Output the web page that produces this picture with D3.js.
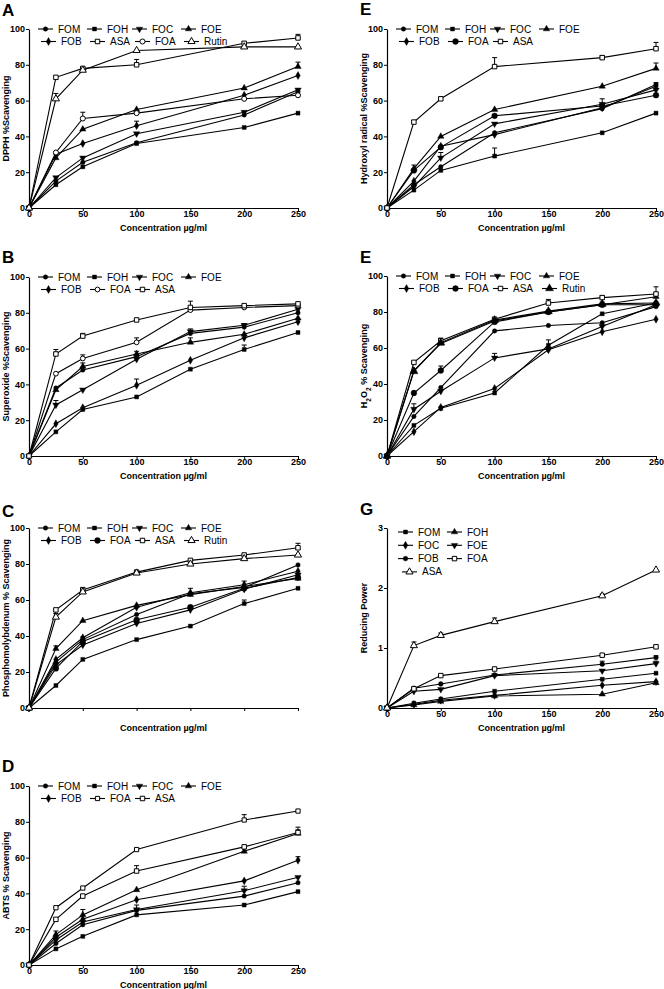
<!DOCTYPE html>
<html><head><meta charset="utf-8">
<script src="https://cdn.jsdelivr.net/npm/d3@7"></script>
<style>body{margin:0;background:#fff} svg{display:block}</style>
</head><body><svg id="c" width="664" height="989"></svg>
<script>
// ---------------- DATA ----------------
const conc6 = [0, 25, 50, 100, 200, 250];
const conc7 = [0, 25, 50, 100, 150, 200, 250];
const xTickValues = [0, 50, 100, 150, 200, 250];
const pctTicks = [0, 20, 40, 60, 80, 100];
const rpTicks = [0, 1, 2, 3];

// A: DPPH
const dpphLegend = ["FOM", "FOH", "FOC", "FOE", "FOB", "ASA", "FOA", "Rutin"];
const dpphValues = {
  FOM: [0, 15, 25.5, 36.5, 52, 65],
  FOH: [0, 13, 23, 36, 45, 53],
  FOC: [0, 17, 28, 41.5, 53.5, 66],
  FOE: [0, 28, 44, 55, 67, 79],
  FOB: [0, 30, 36, 46, 63, 74],
  ASA: [0, 73, 78, 80, 92, 95],
  FOA: [0, 31, 50, 53, 61, 63],
  Rutin: [0, 61, 77, 88, 90, 90]
};
const dpphErrors = [["ASA",100,3],["Rutin",25,3],["FOA",50,3.5],["FOB",100,2.5],["Rutin",200,2],["ASA",250,2],["FOE",250,2.5],["ASA",200,1]];

// E: Hydroxyl radical
const hydroxylLegend = ["FOM", "FOH", "FOC", "FOE", "FOB", "FOA", "ASA"];
const hydroxylValues = {
  FOM: [0, 13, 23, 42, 55.5, 69],
  FOH: [0, 10, 21, 29, 42, 53],
  FOC: [0, 12, 28, 47, 58, 66],
  FOE: [0, 22, 40, 55, 68, 78],
  FOB: [0, 15, 34.5, 41, 56, 68],
  FOA: [0, 21, 34, 51.5, 57, 63],
  ASA: [0, 48, 61, 79, 84, 89]
};
const hydroxylErrors = [["ASA",100,5],["ASA",250,3.5],["FOE",250,3],["FOC",50,3],["FOH",100,4.5],["FOC",200,3],["FOE",25,2],["FOB",250,2],["ASA",200,1]];

// B: Superoxide
const superoxideLegend = ["FOM", "FOH", "FOC", "FOE", "FOB", "FOA", "ASA"];
const superoxideValues = {
  FOM: [0, 38, 48, 55.5, 68.5, 72, 80],
  FOH: [0, 13.5, 26, 33, 48.5, 59.5, 69],
  FOC: [0, 28.5, 37, 54, 69.5, 73, 82],
  FOE: [0, 37, 50, 57, 63.5, 68, 77],
  FOB: [0, 18, 27, 39.5, 53.5, 66, 75],
  FOA: [0, 46, 54.5, 63.5, 81.5, 83, 84],
  ASA: [0, 57, 67, 76, 83, 84, 85]
};
const superoxideErrors = [["ASA",25,2.5],["FOE",50,2],["FOA",50,2],["FOC",25,2.5],["FOB",100,3.5],["FOE",100,1.5],["FOA",100,2.5],["ASA",150,3.5],["FOC",150,1.5],["FOE",150,2.5],["FOH",200,2.5],["FOM",200,2],["ASA",50,1.5]];

// E: H2O2
const h2o2Legend = ["FOM", "FOH", "FOC", "FOE", "FOB", "FOA", "ASA", "Rutin"];
const h2o2Values = {
  FOM: [0, 22, 38, 69.5, 72.5, 74, 83],
  FOH: [0, 17, 26.5, 35, 61.5, 79, 85],
  FOC: [0, 26, 36, 54.5, 59.5, 72, 84],
  FOE: [0, 47.5, 62.5, 75, 80, 84, 88.5],
  FOB: [0, 13.5, 27, 37.5, 59, 69, 76],
  FOA: [0, 35, 47.5, 74.5, 80, 84, 84],
  ASA: [0, 52, 64, 76, 85, 88, 90],
  Rutin: [0, 47, 63, 75.5, 80.5, 84.5, 85]
};
const h2o2Errors = [["FOC",25,3],["FOE",50,3],["FOA",50,2.5],["FOC",100,2.5],["ASA",150,2],["FOH",150,3],["ASA",250,4],["ASA",200,1],["FOA",200,1.5]];

// C: Phosphomolybdenum
const phosphoLegend = ["FOM", "FOH", "FOC", "FOE", "FOB", "FOA", "ASA", "Rutin"];
const phosphoValues = {
  FOM: [0, 25.5, 38, 52, 63.5, 67, 79.5],
  FOH: [0, 12.5, 27, 38, 45.5, 58, 66.5],
  FOC: [0, 24, 35, 47, 54.5, 66, 74],
  FOE: [0, 33, 48.5, 57, 63, 67.5, 72],
  FOB: [0, 27, 39, 56, 64, 68.5, 76],
  FOA: [0, 22, 37, 49, 56, 66.5, 72.5],
  ASA: [0, 54.5, 65.5, 75.5, 82, 85, 89],
  Rutin: [0, 50.5, 64.5, 75, 80, 83, 85]
};
const phosphoErrors = [["ASA",50,1.5],["Rutin",25,2],["FOE",25,1.5],["FOA",50,2.5],["FOB",150,2.5],["FOB",200,2],["FOH",200,2],["ASA",250,2.5]];

// G: Reducing power
const reducingLegend = ["FOM", "FOH", "FOC", "FOE", "FOB", "FOA", "ASA"];
const reducingValues = {
  FOM: [0, 0.08, 0.15, 0.28, 0.48, 0.58],
  FOH: [0, 0.05, 0.11, 0.20, 0.23, 0.42],
  FOC: [0, 0.06, 0.13, 0.21, 0.38, 0.44],
  FOE: [0, 0.28, 0.31, 0.54, 0.62, 0.74],
  FOB: [0, 0.33, 0.40, 0.55, 0.73, 0.84],
  FOA: [0, 0.32, 0.54, 0.65, 0.88, 1.02],
  ASA: [0, 1.04, 1.21, 1.44, 1.87, 2.30]
};
const reducingErrors = [["ASA",25,0.06],["ASA",50,0.04],["ASA",100,0.06],["ASA",200,0.03],["FOB",200,0.05],["FOE",250,0.04],["FOB",250,0.03]];

// D: ABTS
const abtsLegend = ["FOM", "FOH", "FOC", "FOE", "FOB", "FOA", "ASA"];
const abtsValues = {
  FOM: [0, 12, 22.5, 30.5, 38.5, 46],
  FOH: [0, 9, 16, 28, 33.5, 41],
  FOC: [0, 14, 24, 31, 41.5, 49],
  FOE: [0, 17, 28, 42, 63.5, 73.5],
  FOB: [0, 15.5, 25.5, 36.5, 47, 58.5],
  FOA: [0, 32, 43, 64.5, 81, 86],
  ASA: [0, 25.5, 38.5, 52.5, 66, 74]
};
const abtsErrors = [["ASA",100,3],["FOE",50,3],["FOE",25,2],["FOA",200,3],["FOC",100,2.5],["FOC",200,2.5],["ASA",250,3],["FOE",250,2],["FOB",250,2]];

// ---------------- STYLE / LAYOUT ----------------
const FONT = "'Liberation Sans', Arial, Helvetica, sans-serif";
const baseMarkers = {
  FOM: ["circle", false, 16], FOH: ["square", false, 16], FOC: ["triDown", false, 18],
  FOE: ["tri", false, 18], FOB: ["diamond", false, 18], FOA: ["circle", false, 26],
  ASA: ["square", true, 20], Rutin: ["tri", true, 22]
};
const markerSets = {
  A: Object.assign({}, baseMarkers, {FOA: ["circle", true, 20]}),
  B: Object.assign({}, baseMarkers, {FOA: ["circle", true, 18]}),
  E: baseMarkers,
  E2: Object.assign({}, baseMarkers, {Rutin: ["tri", false, 28]}),
  C: Object.assign({}, baseMarkers, {Rutin: ["tri", true, 22]}),
  D: Object.assign({}, baseMarkers, {FOA: ["square", true, 18]}),
  G: {FOM: ["square", false, 16], FOH: ["tri", false, 18], FOC: ["diamond", false, 18], FOE: ["triDown", false, 18],
      FOB: ["circle", false, 18], FOA: ["square", true, 20], ASA: ["tri", true, 22]}
};

const panels = [
  {key:"A", letter:"A", x0:29, yTop:29, yBot:208, letterY:16, xs:conc6, values:dpphValues, legend:dpphLegend, errors:dpphErrors, yMax:100, yTicks:pctTicks, title:[["DPPH %Scavenging"]], xLabels:true},
  {key:"E", letter:"E", x0:387, yTop:29, yBot:208, letterY:15, xs:conc6, values:hydroxylValues, legend:hydroxylLegend, errors:hydroxylErrors, yMax:100, yTicks:pctTicks, title:[["Hydroxyl radical %Scavenging"]], xLabels:true},
  {key:"B", letter:"B", x0:29, yTop:277, yBot:456, letterY:263, xs:conc7, values:superoxideValues, legend:superoxideLegend, errors:superoxideErrors, yMax:100, yTicks:pctTicks, title:[["Superoxide %Scavenging"]], xLabels:true},
  {key:"E2", letter:"E", x0:387, yTop:276, yBot:456, letterY:263, xs:conc7, values:h2o2Values, legend:h2o2Legend, errors:h2o2Errors, yMax:100, yTicks:pctTicks, title:[["H"],["2",true],["O"],["2",true],[" % Scavenging"]], xLabels:true},
  {key:"C", letter:"C", x0:29, yTop:528, yBot:708, letterY:517, xs:conc7, values:phosphoValues, legend:phosphoLegend, errors:phosphoErrors, yMax:100, yTicks:pctTicks, title:[["Phosphomolybdenum % Scavenging"]], xLabels:false},
  {key:"G", letter:"G", x0:387, yTop:528, yBot:708, letterY:515, xs:conc6, values:reducingValues, legend:reducingLegend, errors:reducingErrors, yMax:3, yTicks:rpTicks, title:[["Reducing Power"]], xLabels:true, twoCol:true},
  {key:"D", letter:"D", x0:29, yTop:786, yBot:965, letterY:772, xs:conc6, values:abtsValues, legend:abtsLegend, errors:abtsErrors, yMax:100, yTicks:pctTicks, title:[["ABTS % Scavenging"]], xLabels:true}
];
const PLOT_W = 269;

const svg = d3.select("#c");

function markerPath(spec) {
  const t = spec[0];
  const type = t === "circle" ? d3.symbolCircle : t === "square" ? d3.symbolSquare :
               t === "diamond" ? d3.symbolDiamond : d3.symbolTriangle;
  return d3.symbol().type(type).size(spec[2])();
}
function drawMarker(g, cx, cy, spec) {
  g.append("path")
    .attr("d", markerPath(spec))
    .attr("transform", `translate(${cx},${cy})` + (spec[0] === "triDown" ? " rotate(180)" : ""))
    .attr("fill", spec[1] ? "#fff" : "#000")
    .attr("stroke", "#000")
    .attr("stroke-width", spec[1] ? 1 : 0.4);
}

panels.forEach(p => {
  const g = svg.append("g");
  const x = d3.scaleLinear().domain([0, 250]).range([p.x0, p.x0 + PLOT_W]);
  const y = d3.scaleLinear().domain([0, p.yMax]).range([p.yBot, p.yTop]);
  const mk = markerSets[p.key];

  // axes
  const ya = g.append("g").attr("transform", `translate(${p.x0},0)`)
    .call(d3.axisLeft(y).tickValues(p.yTicks).tickSize(3).tickSizeOuter(0).tickPadding(1).tickFormat(d3.format("d")));
  const xa = g.append("g").attr("transform", `translate(0,${p.yBot})`)
    .call(d3.axisBottom(x).tickValues(xTickValues).tickSize(3).tickSizeOuter(0).tickPadding(0)
      .tickFormat(p.xLabels ? d3.format("d") : () => ""));
  [ya, xa].forEach(a => {
    a.select(".domain").attr("stroke", "#000").attr("stroke-width", 1.2);
    a.selectAll(".tick line").attr("stroke", "#000").attr("stroke-width", 1);
    a.selectAll("text").attr("font-family", FONT).attr("font-size", 9).attr("font-weight", "bold").attr("fill", "#000");
  });

  // series lines
  const line = d3.line().x((d, i) => x(p.xs[i])).y(d => y(d));
  p.legend.forEach(name => {
    g.append("path").datum(p.values[name]).attr("d", line)
      .attr("fill", "none").attr("stroke", "#000").attr("stroke-width", 1.1);
  });
  // error bars
  p.errors.forEach(([name, cx, e]) => {
    const i = p.xs.indexOf(cx);
    const v = p.values[name][i];
    const px = x(cx);
    g.append("line").attr("x1", px).attr("x2", px).attr("y1", y(v)).attr("y2", y(v + e))
      .attr("stroke", "#000").attr("stroke-width", 1);
    g.append("line").attr("x1", px - 2.5).attr("x2", px + 2.5).attr("y1", y(v + e)).attr("y2", y(v + e))
      .attr("stroke", "#000").attr("stroke-width", 1);
  });
  // markers
  p.legend.forEach(name => {
    p.values[name].forEach((v, i) => drawMarker(g, x(p.xs[i]), y(v), mk[name]));
  });

  // legend
  p.legend.forEach((name, i) => {
    let lx, ly;
    if (p.twoCol) {
      const col = i % 2, row = Math.floor(i / 2);
      lx = p.x0 + [11, 60][col] + (row === 3 ? 4 : 0);
      ly = p.yTop + 4 + row * 13.3;
    } else {
      const col = i % 4, row = Math.floor(i / 4);
      lx = p.x0 + [9, 58, 103, 152][col] + (row === 1 ? 3 : 0);
      ly = p.yTop + row * 12.5;
    }
    g.append("line").attr("x1", lx).attr("x2", lx + 15).attr("y1", ly).attr("y2", ly)
      .attr("stroke", "#000").attr("stroke-width", 1.1);
    drawMarker(g, lx + 7.5, ly, mk[name]);
    g.append("text").attr("x", lx + 20).attr("y", ly).attr("dy", "0.35em")
      .attr("font-family", FONT).attr("font-size", 10).attr("fill", "#000").text(name);
  });

  // y title
  const t = g.append("text")
    .attr("transform", `translate(${p.x0 - 23},${(p.yTop + p.yBot) / 2}) rotate(-90)`)
    .attr("text-anchor", "middle").attr("dy", "0.35em")
    .attr("font-family", FONT).attr("font-size", 9).attr("font-weight", "bold").attr("fill", "#000");
  p.title.forEach(([s, sub]) => {
    const ts = t.append("tspan").text(s);
    if (sub) ts.attr("baseline-shift", "sub").attr("font-size", 6.5);
  });

  // x title
  g.append("text").attr("x", p.x0 + PLOT_W / 2).attr("y", p.yBot + 22.5)
    .attr("text-anchor", "middle").attr("font-family", FONT).attr("font-size", 9)
    .attr("font-weight", "bold").attr("fill", "#000").text("Concentration \u00b5g/ml");

  // panel letter
  g.append("text").attr("x", p.x0 - 27).attr("y", p.letterY)
    .attr("font-family", FONT).attr("font-size", 17).attr("font-weight", "bold").attr("fill", "#000")
    .text(p.letter);
});
</script>
</body></html>
